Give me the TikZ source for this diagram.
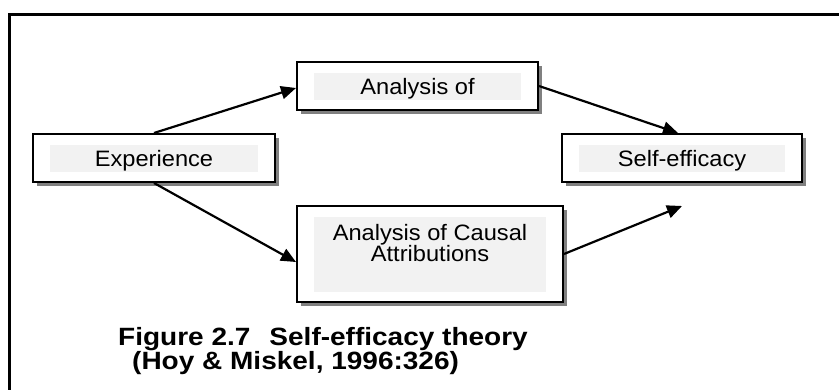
\documentclass[tikz,border=0pt]{standalone}
\usepackage{fontspec}
\setmainfont{Liberation Sans}
\usetikzlibrary{arrows.meta,shadows}
\newcommand{\boxtxt}[1]{\scalebox{1.06}[1]{#1}}
\newcommand{\captxt}[1]{\scalebox{1.12}[1]{#1}}
\tikzset{
  box/.style={draw=black, line width=2pt, fill=white, inner sep=0pt,
    minimum height=48pt, text height=17pt, text depth=0pt,
    drop shadow={shadow xshift=4pt, shadow yshift=-4pt, fill=black!50, opacity=1},
    path picture={\fill[black!5]
      ([xshift=17pt,yshift=-11pt]path picture bounding box.north west) rectangle
      ([xshift=-17pt,yshift=10pt]path picture bounding box.south east);},
    font=\fontsize{22.3}{22}\selectfont},
  boxtext/.style={inner sep=0pt, align=center, font=\fontsize{22.3}{21.5}\selectfont},
  conn/.style={line width=2.2pt, -{Triangle[length=15pt,width=13pt]}},
  captext/.style={inner sep=0pt, font=\fontsize{25}{25}\selectfont\bfseries},
  frame/.style={line width=3pt}
}
\begin{document}
\begin{tikzpicture}[x=1pt,y=-1pt]
\useasboundingbox (0,0) rectangle (839,390);
\draw[frame] (9.5,391) -- (9.5,14.5) -- (840,14.5);

\node[box, minimum width=242pt] (exp) at (154,158) {\boxtxt{Experience}};
\node[box, minimum width=241pt] (ana) at (417.5,86) {\boxtxt{Analysis of}};
\node[box, minimum width=240pt] (self) at (682,158) {\boxtxt{Self-efficacy}};
\node[box, minimum width=266pt, minimum height=96pt] (cau) at (430,254) {};
\node[boxtext] (caut) at (430,243) {\boxtxt{Analysis of Causal}\\\boxtxt{Attributions}};

\coordinate (free) at (682,206);
\draw[conn] (exp.north) -- ([yshift=-2pt]ana.west);
\draw[conn] (ana.east) -- ([xshift=-4pt]self.north);
\draw[conn] (exp.south) -- ([yshift=-8pt]cau.west);
\draw[conn] (cau.east) -- (free);

\node[captext, anchor=base west] (cap1) at (118,345) {\captxt{Figure 2.7\hspace{17pt}Self-efficacy theory}};
\node[captext, anchor=base west] (cap2) at (132,370) {\captxt{(Hoy \& Miskel, 1996:326)}};
\end{tikzpicture}
\end{document}
